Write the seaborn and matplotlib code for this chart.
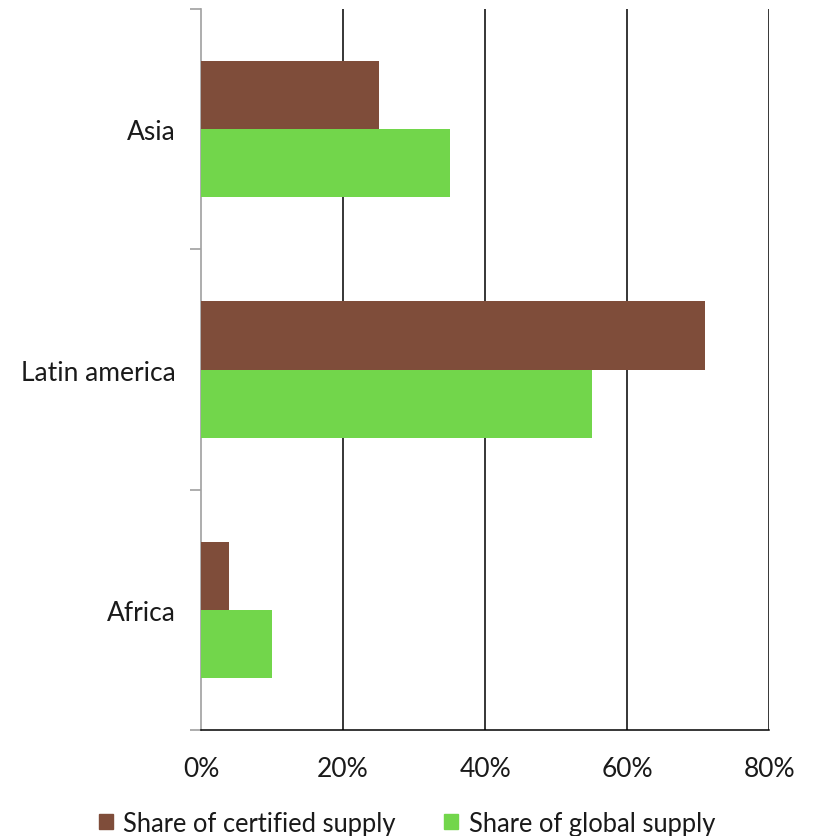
import matplotlib
matplotlib.use("Agg")
import matplotlib.pyplot as plt
from matplotlib.ticker import FixedLocator, PercentFormatter
import seaborn as sns
import pandas as pd

regions = ["Asia", "Latin america", "Africa"]
series_names = ["Share of certified supply", "Share of global supply"]
certified_share = [25, 71, 4]
global_share = [35, 55, 10]
x_ticks = [0, 20, 40, 60, 80]

colors = ["#7F4D3A", "#72D64B"]

df = pd.DataFrame({
    "region": regions * 2,
    "series": [series_names[0]] * len(regions) + [series_names[1]] * len(regions),
    "share": certified_share + global_share,
})

sns.set_theme(style="white")
plt.rcParams["font.family"] = ["Lato", "DejaVu Sans"]

fig = plt.figure(figsize=(8.14, 8.37), dpi=100)
ax = fig.add_axes([0.247, 0.1266, 0.698, 0.8614])

sns.barplot(data=df, y="region", x="share", hue="series", order=regions,
            hue_order=series_names, palette=colors, orient="h",
            width=0.567, saturation=1, linewidth=0, ax=ax, zorder=3)

ax.set_xlim(0, 80)
ax.set_ylim(2.5, -0.5)
ax.set_xticks(x_ticks)
ax.xaxis.set_major_formatter(PercentFormatter(decimals=0))
ax.set_xlabel("")
ax.set_ylabel("")

# vertical gridlines at the percentage ticks
for v in x_ticks[1:]:
    ax.axvline(v, color="black", linewidth=1.1, zorder=1)

for side in ["top", "right"]:
    ax.spines[side].set_visible(False)
ax.spines["left"].set_color("#A0A0A0")
ax.spines["left"].set_linewidth(1.2)
ax.spines["bottom"].set_color("black")
ax.spines["bottom"].set_linewidth(1.1)

label_size = 19
ax.tick_params(axis="x", which="major", direction="out", length=8, width=1.1,
               color="black", labelsize=label_size, pad=11, labelcolor="#1A1A1A")
ax.tick_params(axis="y", which="major", length=0, labelsize=label_size, pad=18.5,
               labelcolor="#1A1A1A")
# category boundary ticks on the left axis
ax.yaxis.set_minor_locator(FixedLocator([-0.5, 0.5, 1.5, 2.5]))
ax.tick_params(axis="y", which="minor", direction="out", length=8, width=1.2,
               color="#A0A0A0", left=True)

ax.legend_.remove()
handles = [plt.Rectangle((0, 0), 1, 1, color=c) for c in colors]
fig.legend(handles, series_names, loc="lower center", bbox_to_anchor=(0.5, -0.027),
           ncol=2, frameon=False, fontsize=18.4, handlelength=0.55,
           handleheight=0.55, handletextpad=0.4, columnspacing=1.9,
           labelcolor="#1A1A1A")

fig.savefig("out.png", dpi=100, facecolor="white")
